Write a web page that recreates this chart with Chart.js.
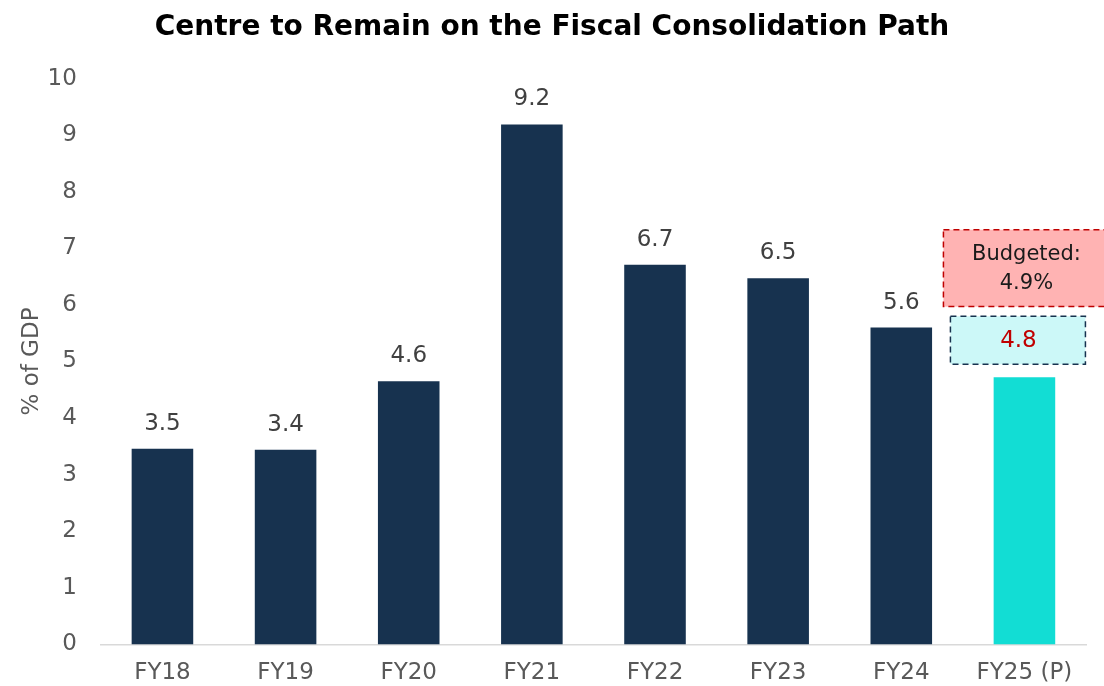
<!DOCTYPE html>
<html>
<head>
<meta charset="utf-8">
<script src="https://cdn.jsdelivr.net/npm/chart.js@4.4.1/dist/chart.umd.min.js"></script>
<style>
  html, body { margin: 0; padding: 0; background: #fff; }
  #wrap { width: 1104px; height: 686px; }
</style>
</head>
<body>
<div id="wrap"><canvas id="barChart"></canvas></div>
<script>
/* datos del grafico */
var years = ["FY18", "FY19", "FY20", "FY21", "FY22", "FY23", "FY24", "FY25 (P)"];
var deficit = [3.46, 3.44, 4.65, 9.19, 6.71, 6.47, 5.60, 4.72];
var deficitLabels = ["3.5", "3.4", "4.6", "9.2", "6.7", "6.5", "5.6", ""];
var barColors = ["#17324F", "#17324F", "#17324F", "#17324F", "#17324F", "#17324F", "#17324F", "#12DDD4"];
var yTicks = [0, 1, 2, 3, 4, 5, 6, 7, 8, 9, 10];
// cajas de la ultima barra (FY25)
var budgetText = ["Budgeted:", "4.9%"];
var budgetRange = [5.97, 7.33];
var projText = "4.8";
var projRange = [4.95, 5.80];

var FONT = "'DejaVu Sans', sans-serif";

// etiquetas encima de las barras
var barLabels = {
    id: 'barLabels',
    afterDatasetsDraw: function (chart) {
        var ctx = chart.ctx;
        var meta = chart.getDatasetMeta(0);
        ctx.save();
        ctx.font = "23px " + FONT;
        ctx.fillStyle = "#404040";
        ctx.textAlign = "center";
        ctx.textBaseline = "middle";
        meta.data.forEach(function (bar, i) {
            if (deficitLabels[i]) ctx.fillText(deficitLabels[i], bar.x, bar.y - 25);
        });
        ctx.restore();
    }
};

// cajas punteadas para FY25
var boxNotes = {
    id: 'boxNotes',
    afterDatasetsDraw: function (chart) {
        var ctx = chart.ctx;
        var xs = chart.scales.x, ys = chart.scales.y;
        var cx = xs.getPixelForValue(years.length - 1);
        ctx.save();
        ctx.setLineDash([6, 4]);
        ctx.lineWidth = 1.5;

        // caja presupuestada
        var t = ys.getPixelForValue(budgetRange[1]);
        var b = ys.getPixelForValue(budgetRange[0]);
        ctx.fillStyle = "#FFB3B3";
        ctx.strokeStyle = "#C00000";
        ctx.fillRect(cx - 81, t, 162, b - t);
        ctx.strokeRect(cx - 81, t, 162, b - t);
        ctx.fillStyle = "#1a1a1a";
        ctx.font = "21px " + FONT;
        ctx.textAlign = "center";
        ctx.textBaseline = "middle";
        ctx.fillText(budgetText[0], cx + 2, t + 25);
        ctx.fillText(budgetText[1], cx + 2, t + 54);

        // caja proyectada
        t = ys.getPixelForValue(projRange[1]);
        b = ys.getPixelForValue(projRange[0]);
        ctx.fillStyle = "#CCF8F8";
        ctx.strokeStyle = "#17324F";
        ctx.fillRect(cx - 74, t, 135, b - t);
        ctx.strokeRect(cx - 74, t, 135, b - t);
        ctx.fillStyle = "#C00000";
        ctx.font = "23px " + FONT;
        ctx.fillText(projText, cx - 6, (t + b) / 2 + 1);
        ctx.restore();
    }
};

var chartdata = {
    labels: years,
    datasets: [
        {
            label: "% of GDP",
            data: deficit,
            backgroundColor: barColors,
            borderWidth: 0,
            barPercentage: 0.5,
            categoryPercentage: 1.0
        }
    ]
};

var graphTarget = document.getElementById("barChart");

var barGraph = new Chart(graphTarget, {
    type: 'bar',
    data: chartdata,
    plugins: [barLabels, boxNotes],
    options: {
        responsive: true,
        maintainAspectRatio: false,
        animation: false,
        layout: { padding: { left: 18, right: 18, top: 0, bottom: -16 } },
        plugins: {
            legend: { display: false },
            tooltip: { enabled: false },
            title: {
                display: true,
                text: "Centre to Remain on the Fiscal Consolidation Path",
                color: "#000",
                font: { family: FONT, size: 28, weight: 'bold' },
                padding: { top: 11, bottom: 34 }
            }
        },
        scales: {
            x: {
                grid: { display: false, drawTicks: false },
                border: { display: true, color: "#D9D9D9", width: 1.5 },
                ticks: { color: "#595959", font: { family: FONT, size: 23 }, padding: 15 }
            },
            y: {
                min: 0,
                max: 10,
                afterBuildTicks: function (axis) {
                    axis.ticks = yTicks.map(function (v) { return { value: v }; });
                },
                grid: { display: false, drawTicks: false },
                border: { display: false },
                ticks: { color: "#595959", font: { family: FONT, size: 23 }, padding: 24 },
                title: {
                    display: true,
                    text: "% of GDP",
                    color: "#595959",
                    font: { family: FONT, size: 23 },
                    padding: { top: 0, bottom: -22 }
                }
            }
        }
    }
});
</script>
</body>
</html>
